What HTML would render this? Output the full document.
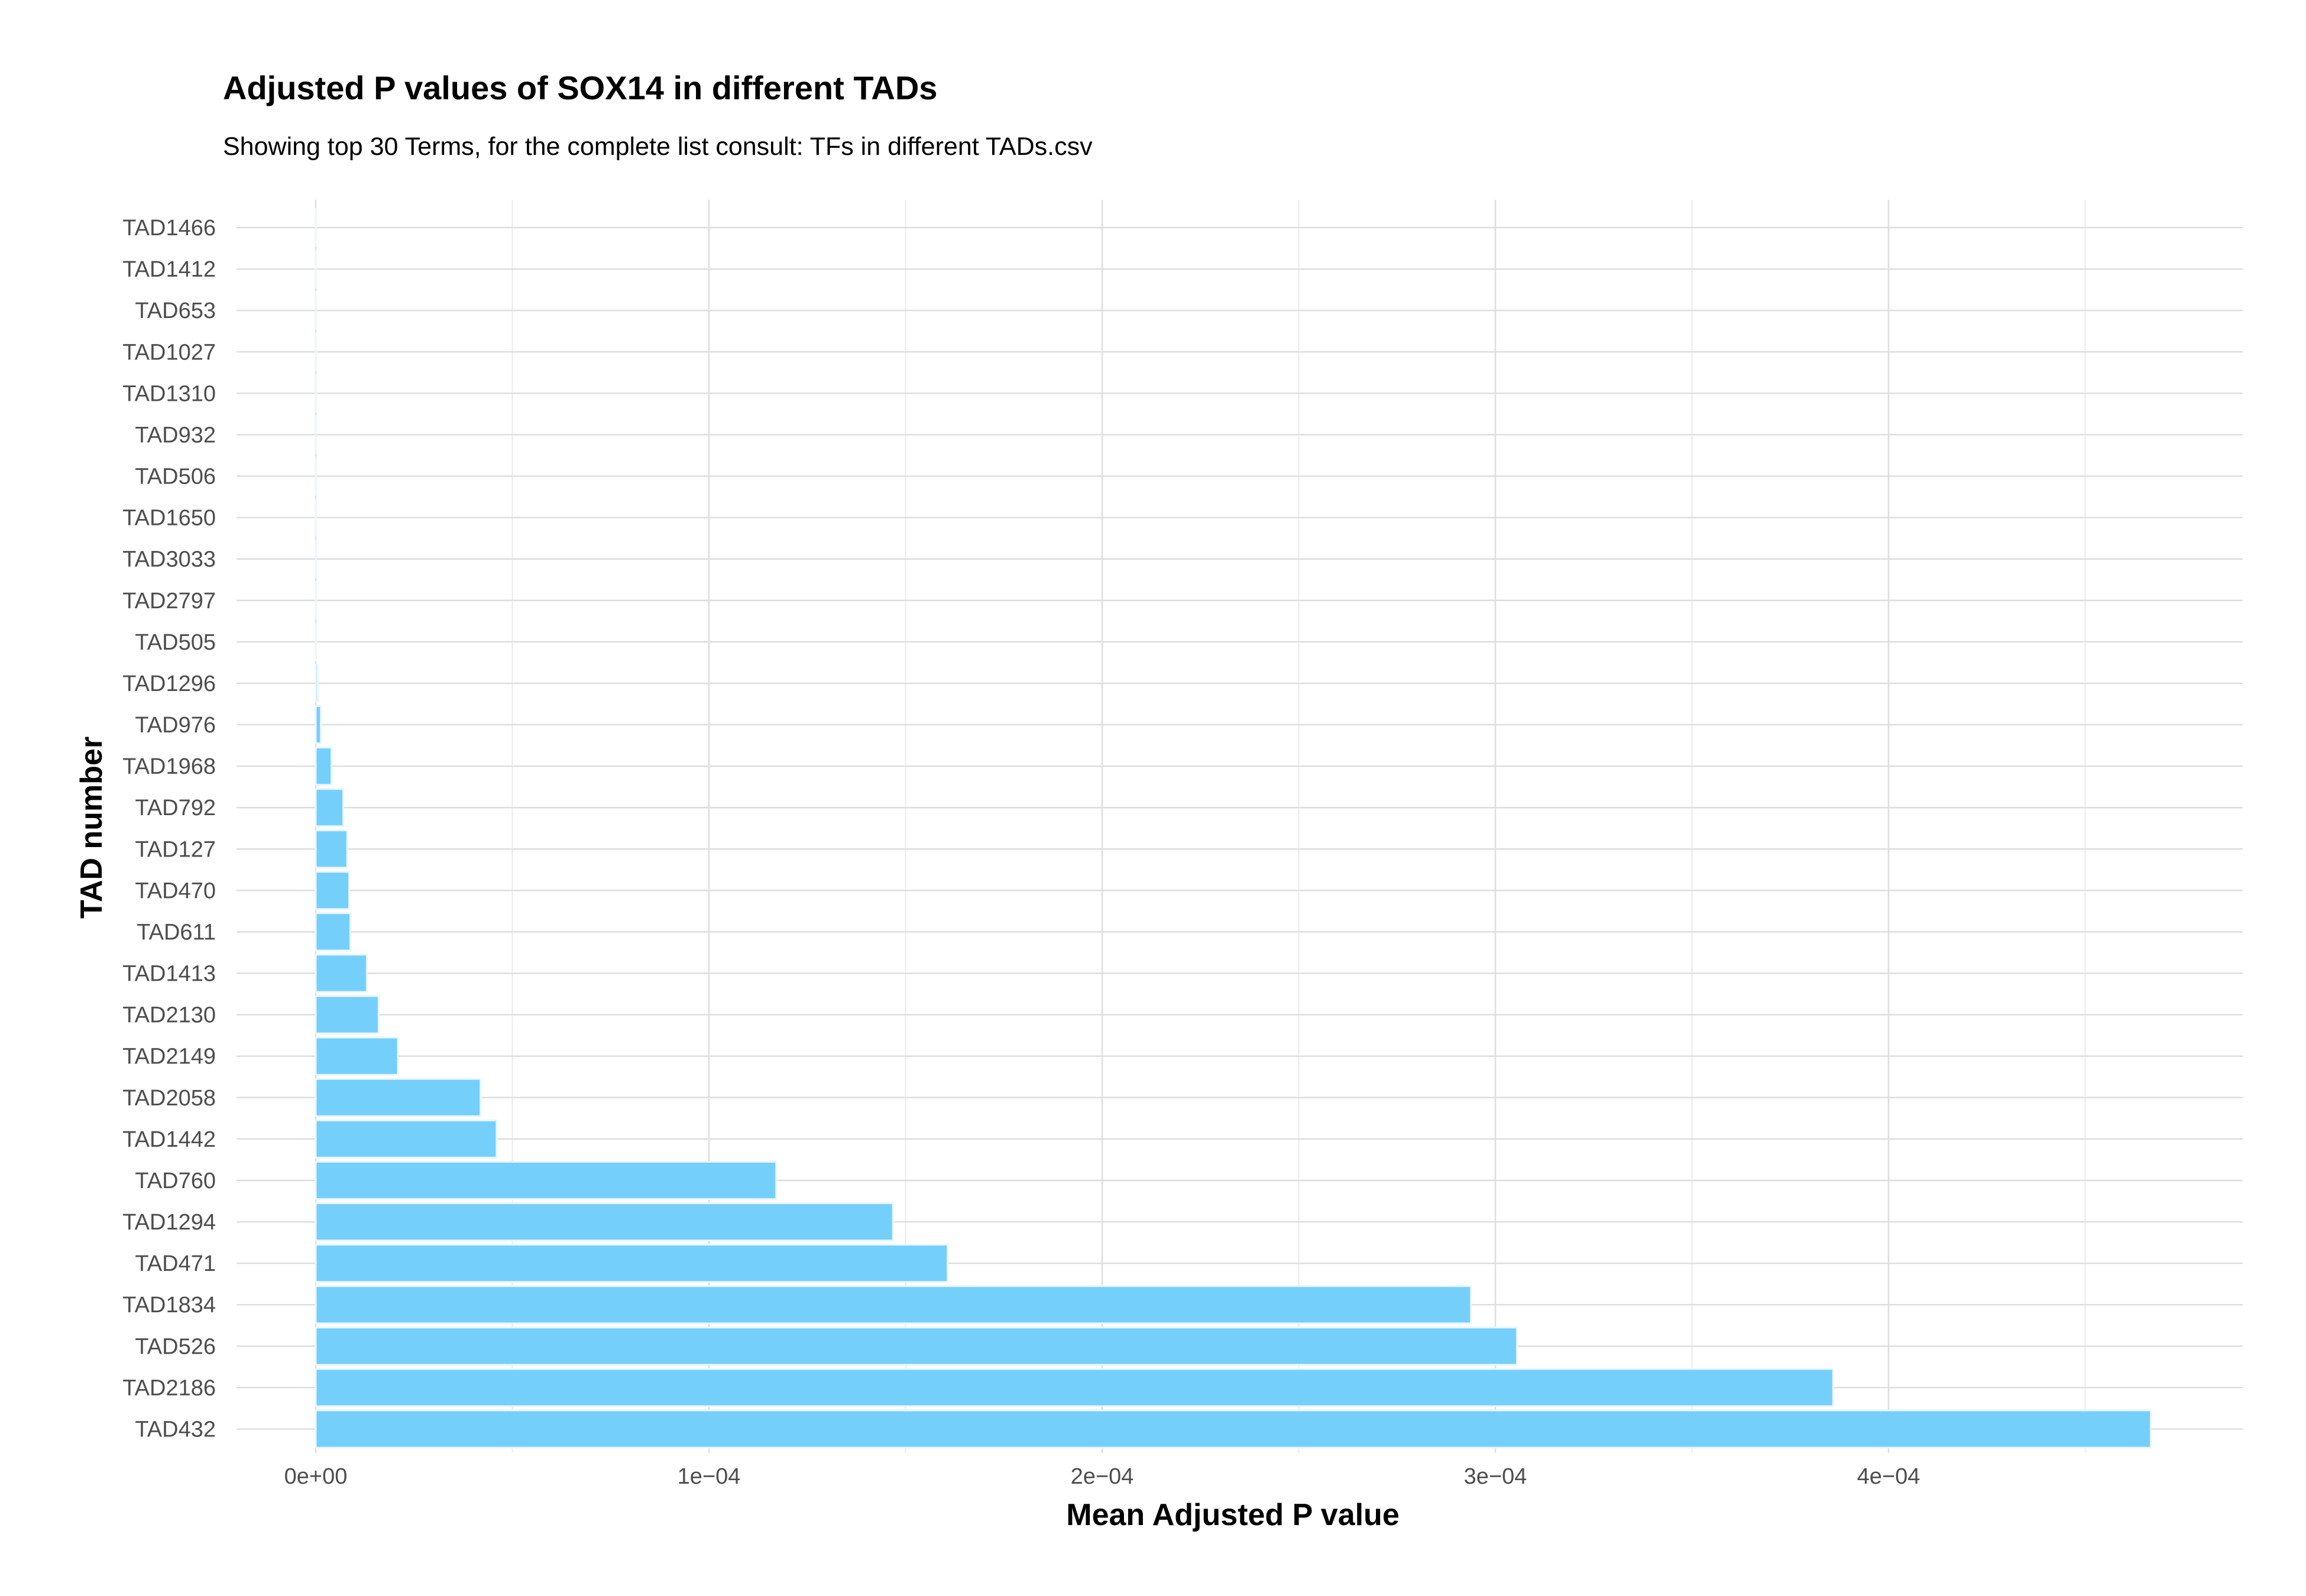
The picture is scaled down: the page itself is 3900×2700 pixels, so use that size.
<!DOCTYPE html>
<html><head><meta charset="utf-8">
<style>
html,body{margin:0;padding:0;background:#fff;}
svg{display:block;font-family:"Liberation Sans Narrow","Liberation Sans",sans-serif;}
</style></head>
<body>
<svg id="chart" width="3900" height="2700" viewBox="0 0 3900 2700" xmlns="http://www.w3.org/2000/svg">
<rect width="3900" height="2700" fill="#fff"/>
<text x="377" y="168" font-size="56" font-weight="bold" fill="#000">Adjusted P values of SOX14 in different TADs</text>
<text x="377" y="262" font-size="43" fill="#000">Showing top 30 Terms, for the complete list consult: TFs in different TADs.csv</text>
<g id="grid"></g>
<g id="bars"></g>
<g id="yticks"></g>
<g id="xticks"></g>
<text x="2085" y="2580" font-size="52" font-weight="bold" text-anchor="middle" fill="#000">Mean Adjusted P value</text>
<text transform="translate(172,1400) rotate(-90)" font-size="52" font-weight="bold" text-anchor="middle" fill="#000">TAD number</text>
</svg>
<script>
const categories = ["TAD1466","TAD1412","TAD653","TAD1027","TAD1310","TAD932","TAD506","TAD1650","TAD3033","TAD2797","TAD505","TAD1296","TAD976","TAD1968","TAD792","TAD127","TAD470","TAD611","TAD1413","TAD2130","TAD2149","TAD2058","TAD1442","TAD760","TAD1294","TAD471","TAD1834","TAD526","TAD2186","TAD432"];
const values = [0.00000001,0.00000001,0.00000001,0.00000002,0.00000002,0.00000003,0.00000004,0.00000005,0.00000006,0.00000008,0.0000001,0.0000005,0.0000013,0.000004,0.000007,0.000008,0.0000085,0.0000088,0.000013,0.000016,0.0000209,0.0000419,0.000046,0.0001171,0.0001468,0.0001607,0.0002938,0.0003055,0.0003859,0.0004667];
const xTickValues = [0,0.0001,0.0002,0.0003,0.0004];
const xTickLabels = ["0e+00","1e−04","2e−04","3e−04","4e−04"];
const xMinorValues = [0.00005,0.00015,0.00025,0.00035,0.00045];

const NS="http://www.w3.org/2000/svg";
const panel={left:400,right:3793,top:338,bottom:2458};
const x0=534, pxPer=665/0.0001;
function xScale(v){return x0+v*pxPer;}
const yTop=385, step=(2417.5-385)/(categories.length-1);
function yScale(i){return yTop+i*step;}
function mk(tag,attrs,parent){const e=document.createElementNS(NS,tag);for(const k in attrs)e.setAttribute(k,attrs[k]);parent.appendChild(e);return e;}
const grid=document.getElementById('grid'),bars=document.getElementById('bars'),yt=document.getElementById('yticks'),xt=document.getElementById('xticks');
xMinorValues.forEach(v=>{const l=mk('line',{x1:xScale(v),x2:xScale(v),y1:panel.top,y2:panel.bottom,stroke:'#ebebeb','stroke-width':2},grid);

});
xTickValues.forEach((v,i)=>{const l=mk('line',{x1:xScale(v),x2:xScale(v),y1:panel.top,y2:panel.bottom,stroke:'#dedede','stroke-width':2.5},grid);


const t=mk('text',{x:xScale(v),y:2510,'font-size':38,'text-anchor':'middle',fill:'#4d4d4d'},xt);t.textContent=xTickLabels[i];

});
categories.forEach((c,i)=>{const y=yScale(i);
const l=mk('line',{x1:panel.left,x2:panel.right,y1:y,y2:y,stroke:'#dedede','stroke-width':2.5},grid);


const t=mk('text',{x:365,y:y+13,'font-size':38,'text-anchor':'end',fill:'#4d4d4d'},yt);t.textContent=c;


const h=step*0.9;
const r=mk('rect',{x:xScale(0),y:y-h/2,width:Math.max(0,xScale(values[i])-xScale(0)),height:h,fill:'#75cffb',stroke:'#eaf6fe','stroke-width':3},bars);

});
</script>
</body></html>
